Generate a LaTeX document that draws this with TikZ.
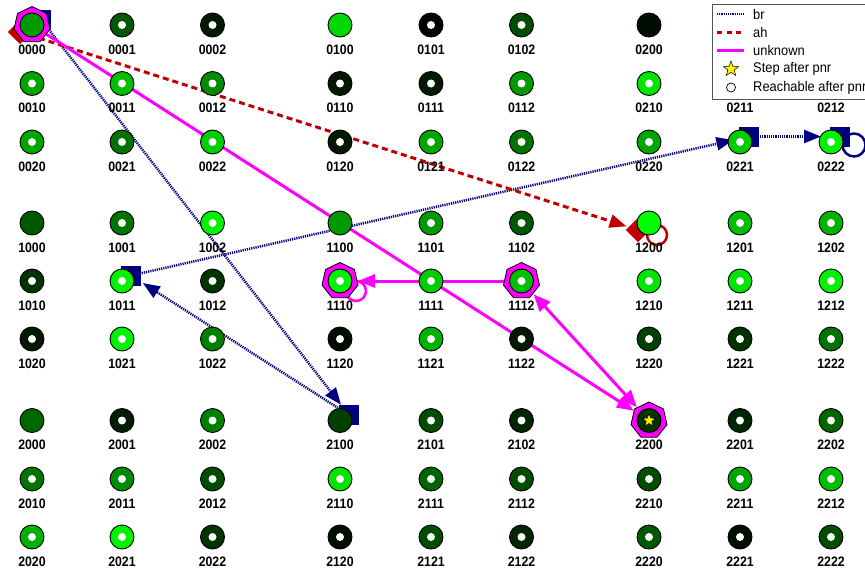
\documentclass[tikz,border=0pt]{standalone}
\usepackage{fontspec}
\setmainfont{Liberation Sans}
\newfontfamily\labfont[FakeStretch=0.9]{Liberation Sans}
\newfontfamily\legfont[FakeStretch=0.92]{Liberation Sans}
\usetikzlibrary{arrows.meta,shapes.geometric}
\definecolor{navy}{RGB}{0,0,128}
\definecolor{ahred}{RGB}{192,0,0}
\definecolor{mag}{RGB}{255,0,255}
\definecolor{leggray}{RGB}{85,85,85}
\begin{document}
\begin{tikzpicture}[x=1pt,y=-1pt,
  stnode/.style={circle,draw=black,line width=0.9pt,minimum size=24pt,inner sep=0pt},
  whitedot/.style={circle,fill=white,minimum size=8pt,inner sep=0pt},
  lab/.style={font=\labfont\bfseries\fontsize{13.7}{14}\selectfont,inner sep=0pt},
  legtext/.style={font=\legfont\fontsize{14}{15}\selectfont,inner sep=0pt,anchor=west},
  brline/.style={draw=navy,line width=2.5pt,dash pattern=on 1.2pt off 1pt},
  ahline/.style={draw=ahred,line width=3pt,dash pattern=on 6pt off 4pt},
  unline/.style={draw=mag,line width=3pt},
  tipx/.style={-{Triangle[length=17pt,width=13pt]}},
  tipboth/.style={{Triangle[length=17pt,width=14pt]}-{Triangle[length=17pt,width=14pt]}},
  sqmark/.style={rectangle,fill=navy,minimum size=20pt,inner sep=0pt},
  dmmark/.style={diamond,fill=ahred,minimum size=24pt,inner sep=0pt},
  hepta/.style={regular polygon,regular polygon sides=7,minimum size=37pt,inner sep=0pt,fill=mag,draw=black,line width=0.8pt},
  ystar/.style={star,star points=5,star point ratio=2.4,fill=yellow,draw=black,line width=0.5pt,inner sep=0pt}
]
\useasboundingbox[fill=white] (0,0) rectangle (865,570);
\def\colx{{32,122,212.5,340,431,521.5,649,740,831}}
\def\rowy{{25,83.5,142,223,281,339,420.5,479,537}}
\def\nodelist{0/0/0/0/60,0/0/0/1/35,0/0/0/2/10,0/1/0/0/85,0/1/0/1/0,0/1/0/2/30,0/2/0/0/5,0/2/0/1/50,0/2/0/2/50,
0/0/1/0/65,0/0/1/1/75,0/0/1/2/55,0/1/1/0/10,0/1/1/1/10,0/1/1/2/60,0/2/1/0/90,0/2/1/1/50,0/2/1/2/50,
0/0/2/0/65,0/0/2/1/45,0/0/2/2/80,0/1/2/0/10,0/1/2/1/65,0/1/2/2/45,0/2/2/0/65,0/2/2/1/80,0/2/2/2/95,
1/0/0/0/35,1/0/0/1/45,1/0/0/2/95,1/1/0/0/60,1/1/0/1/60,1/1/0/2/35,1/2/0/0/100,1/2/0/1/75,1/2/0/2/70,
1/0/1/0/20,1/0/1/1/95,1/0/1/2/20,1/1/1/0/95,1/1/1/1/80,1/1/1/2/75,1/2/1/0/90,1/2/1/1/90,1/2/1/2/95,
1/0/2/0/10,1/0/2/1/95,1/0/2/2/50,1/1/2/0/5,1/1/2/1/70,1/1/2/2/10,1/2/2/0/25,1/2/2/1/20,1/2/2/2/45,
2/0/0/0/40,2/0/0/1/12,2/0/0/2/50,2/1/0/0/25,2/1/0/1/30,2/1/0/2/15,2/2/0/0/20,2/2/0/1/15,2/2/0/2/40,
2/0/1/0/45,2/0/1/1/55,2/0/1/2/30,2/1/1/0/90,2/1/1/1/40,2/1/1/2/30,2/2/1/0/30,2/2/1/1/65,2/2/1/2/75,
2/0/2/0/70,2/0/2/1/95,2/0/2/2/20,2/1/2/0/5,2/1/2/1/30,2/1/2/2/15,2/2/2/0/35,2/2/2/1/5,2/2/2/2/30}
% positions
\foreach \a/\b/\c/\d/\k in \nodelist {
  \pgfmathsetmacro\px{\colx[3*\b+\d]}
  \pgfmathsetmacro\py{\rowy[3*\a+\c]}
  \coordinate (p\a\b\c\d) at (\px,\py);
}
% self loops
\draw[navy,line width=2.5pt] ([shift={(23,3)}]p0222) circle[radius=11.5];
\draw[ahred,line width=2.5pt] ([shift={(8,12)}]p1200) circle[radius=10];
\draw[mag,line width=2.5pt] ([shift={(16,10)}]p1110) circle[radius=10];
% markers
\node[sqmark] (s0000) at ([shift={(9,-5.5)}]p0000) {};
\node[sqmark] (s2100) at ([shift={(9,-5.5)}]p2100) {};
\node[sqmark] (s1011) at ([shift={(9,-5.5)}]p1011) {};
\node[sqmark] (s0221) at ([shift={(9,-5.5)}]p0221) {};
\node[sqmark] (s0222) at ([shift={(9,-5.5)}]p0222) {};
\node[dmmark] (d0000) at ([shift={(-12,7)}]p0000) {};
\node[dmmark] (d1200) at ([shift={(-11,7)}]p1200) {};
% edges: br
\draw[brline,tipx,shorten >=13pt] (s0000.center) -- (s2100.center);
\draw[brline,tipx,shorten >=14pt] (s2100.center) -- (s1011.center);
\draw[brline,tipx,shorten >=16pt] (s1011.center) -- (s0221.center);
\draw[brline,tipx,shorten >=19pt] (s0221.center) -- (s0222.center);
% edges: ah
\draw[ahline,tipx,shorten >=12pt] (d0000.center) -- (d1200.center);
% edges: unknown
\draw[unline,tipx,shorten >=18pt] (p0000) -- (p2200);
\draw[unline,tipx,shorten >=18pt] (p1112) -- (p1110);
\draw[unline,tipboth,shorten >=18pt,shorten <=18pt] (p2200) -- (p1112);
% redraw markers on top of line starts
\node[sqmark] at (s0000) {};
\node[sqmark] at (s2100) {};
\node[sqmark] at (s1011) {};
\node[sqmark] at (s0221) {};
\node[sqmark] at (s0222) {};
\node[dmmark] at (d0000) {};
\node[dmmark] at (d1200) {};
% heptagons
\node[hepta] (h0000) at (p0000) {};
\node[hepta] (h1110) at (p1110) {};
\node[hepta] (h1112) at (p1112) {};
\node[hepta] (h2200) at (p2200) {};
% states
\foreach \a/\b/\c/\d/\k in \nodelist {
  \node[stnode,fill=green!\k!black] (n\a\b\c\d) at (p\a\b\c\d) {};
  \ifnum\c\d=0\relax\else
    \node[whitedot] (w\a\b\c\d) at (p\a\b\c\d) {};
  \fi
  \node[lab] (l\a\b\c\d) at ([yshift=-24.5pt]p\a\b\c\d) {\a\b\c\d};
}
\node[ystar,minimum size=14pt] (star2200) at (p2200) {};
% legend
\draw[leggray,line width=1pt,fill=white] (712,4) rectangle (872,99);
\coordinate (lg1a) at (717,14); \coordinate (lg1b) at (744,14);
\coordinate (lg2a) at (717,32); \coordinate (lg2b) at (744,32);
\coordinate (lg3a) at (717,50); \coordinate (lg3b) at (744,50);
\draw[brline] (lg1a) -- (lg1b);
\draw[ahline,dash pattern=on 5pt off 4.5pt] (lg2a) -- (lg2b);
\draw[unline] (lg3a) -- (lg3b);
\node[ystar,minimum size=16pt] (lgstar) at (731,69) {};
\node[circle,draw=black,fill=white,line width=0.7pt,minimum size=9pt,inner sep=0pt] (lgcirc) at (731,87.5) {};
\node[legtext] (t1) at (753,14) {br};
\node[legtext] (t2) at (753,32) {ah};
\node[legtext] (t3) at (753,50) {unknown};
\node[legtext] (t4) at (753,69) {Step after pnr};
\node[legtext] (t5) at (753,87.5) {Reachable after pnr};
\end{tikzpicture}
\end{document}
